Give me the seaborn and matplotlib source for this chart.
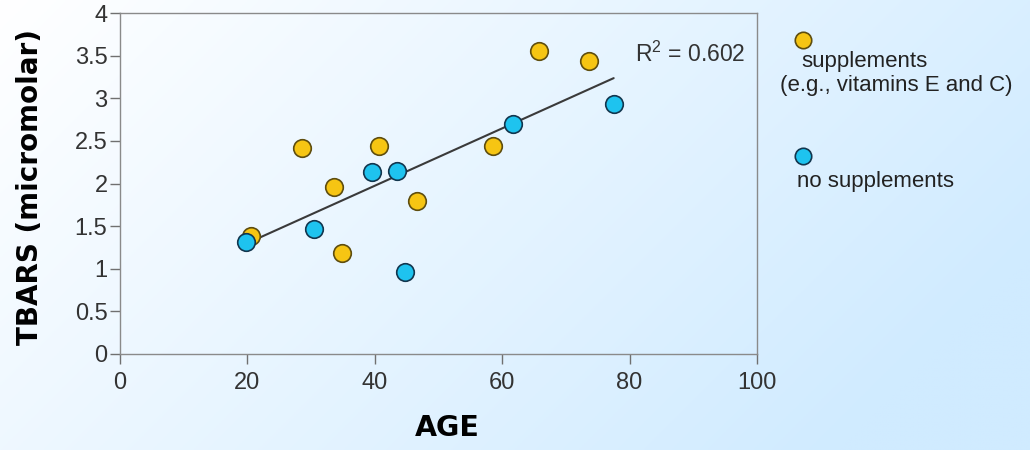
import numpy as np
import pandas as pd
import matplotlib
matplotlib.use("Agg")
import matplotlib.pyplot as plt
import seaborn as sns

# ---- data ----
age_supp = [20.6, 28.5, 33.6, 34.9, 40.7, 46.7, 58.5, 65.7, 73.6]
tbars_supp = [1.38, 2.42, 1.96, 1.19, 2.44, 1.80, 2.44, 3.56, 3.44]
age_none = [19.8, 30.5, 39.6, 43.5, 44.8, 61.7, 77.5]
tbars_none = [1.31, 1.47, 2.13, 2.15, 0.96, 2.70, 2.93]
group_labels = ["supplements\n(e.g., vitamins E and C)", "no supplements"]
r2_label = "0.602"
x_ticks = [0, 20, 40, 60, 80, 100]
y_ticks = [0, 0.5, 1, 1.5, 2, 2.5, 3, 3.5, 4]
y_tick_labels = ["0", "0.5", "1", "1.5", "2", "2.5", "3", "3.5", "4"]

YELLOW = "#F6C513"
YELLOW_EDGE = "#5E4D0E"
BLUE = "#1EC3EF"
BLUE_EDGE = "#12364E"

df = pd.DataFrame({
    "age": age_supp + age_none,
    "tbars": tbars_supp + tbars_none,
    "group": ["supp"] * len(age_supp) + ["none"] * len(age_none),
})

sns.set_theme(style="white")
plt.rcParams["font.family"] = ["Liberation Sans", "DejaVu Sans"]
plt.rcParams["mathtext.fontset"] = "custom"
plt.rcParams["mathtext.rm"] = "Liberation Sans"
plt.rcParams["mathtext.it"] = "Liberation Sans"

fig = plt.figure(figsize=(10.3, 4.5), dpi=100)

# background gradient (white top-left -> light blue bottom-right)
bg = fig.add_axes([0, 0, 1, 1], zorder=-10)
gx, gy = np.meshgrid(np.linspace(0, 1, 400), np.linspace(0, 1, 200))
t = np.clip(0.8 * gx + 0.35 * gy, 0, 1)
c0 = np.array([1.0, 1.0, 1.0])
c1 = np.array([0xD0, 0xEB, 0xFF]) / 255.0
img = c0[None, None, :] * (1 - t[..., None]) + c1[None, None, :] * t[..., None]
bg.imshow(img, aspect="auto", extent=[0, 1, 0, 1], origin="upper")
bg.axis("off")

ax = fig.add_axes([120 / 1030, 1 - 354 / 450, (757 - 120) / 1030, (354 - 13) / 450])
ax.set_facecolor("none")

sns.regplot(data=df, x="age", y="tbars", scatter=False, ci=None, truncate=True,
            color="#3a3a3a", line_kws={"lw": 1.5}, ax=ax)
sns.scatterplot(data=df[df.group == "supp"], x="age", y="tbars", s=160,
                color=YELLOW, edgecolor=YELLOW_EDGE, linewidth=1.2, ax=ax, zorder=3)
sns.scatterplot(data=df[df.group == "none"], x="age", y="tbars", s=160,
                color=BLUE, edgecolor=BLUE_EDGE, linewidth=1.2, ax=ax, zorder=3)

ax.set_xlim(0, 100)
ax.set_ylim(0, 4)
ax.set_xticks(x_ticks)
ax.set_yticks(y_ticks)
ax.set_yticklabels(y_tick_labels)
for sp in ax.spines.values():
    sp.set_visible(True)
    sp.set_color("#8a8a8a")
    sp.set_linewidth(1.0)
ax.tick_params(axis="both", direction="out", length=7, width=1, color="#707070",
               labelsize=17, labelcolor="#333333", pad=2,
               left=True, bottom=True)
ax.tick_params(axis="x", pad=6)
ax.set_xlabel("")
ax.set_ylabel("")

ax.text(80.9, 3.52, r"R$^{2}$ = " + r2_label, fontsize=16.5, color="#333333",
        ha="left", va="center")

fig.text(447 / 1030, 1 - 428 / 450, "AGE", fontsize=20.5, fontweight="bold",
         family="DejaVu Sans", ha="center", va="center", color="black")
fig.text(30 / 1030, 1 - 187 / 450, "TBARS (micromolar)", fontsize=20,
         fontweight="bold", family="DejaVu Sans", rotation=90,
         ha="center", va="center", color="black")

# legend (marker above text)
leg = fig.add_axes([0, 0, 1, 1], zorder=5)
leg.set_xlim(0, 1030)
leg.set_ylim(450, 0)
leg.axis("off")
leg.scatter([803], [40], s=140, color=YELLOW, edgecolor=YELLOW_EDGE, linewidth=1.2)
leg.scatter([803], [156], s=140, color=BLUE, edgecolor=BLUE_EDGE, linewidth=1.2)
leg.text(801, 62, group_labels[0].split("\n")[0], fontsize=16, color="#222222",
         ha="left", va="center")
leg.text(780, 85, group_labels[0].split("\n")[1], fontsize=16, color="#222222",
         ha="left", va="center")
leg.text(797, 182, group_labels[1], fontsize=16, color="#222222",
         ha="left", va="center")

fig.savefig("out.png", dpi=100)
